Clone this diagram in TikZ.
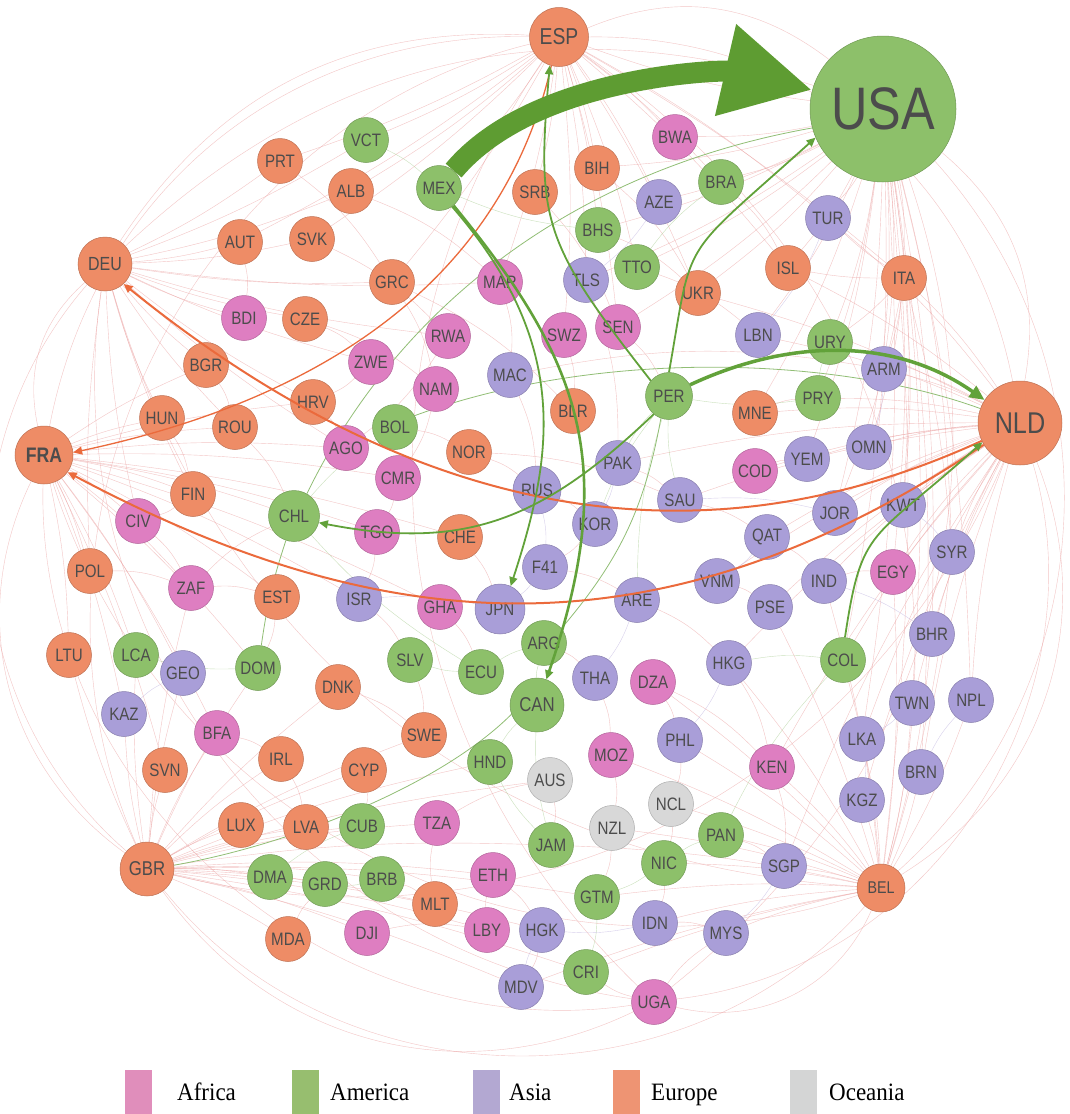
\documentclass[tikz,border=0pt]{standalone}
\usepackage{fontspec}
\newfontfamily\lblfont[FakeStretch=0.84]{Liberation Sans}
\newfontfamily\keyfont[FakeStretch=0.92]{Liberation Serif}
\usepackage{xcolor}
\usepackage{tikz}
\usetikzlibrary{positioning}
\usetikzlibrary{arrows.meta, backgrounds}
\definecolor{afr}{HTML}{DE7EC1}
\definecolor{ame}{HTML}{8DC06A}
\definecolor{asi}{HTML}{A99ED8}
\definecolor{eur}{HTML}{EE8C66}
\definecolor{oce}{HTML}{D8D8D8}
\definecolor{afrkey}{HTML}{E08EBB}
\definecolor{amekey}{HTML}{97BE6F}
\definecolor{asikey}{HTML}{B3A8D2}
\definecolor{eurkey}{HTML}{EE9473}
\definecolor{ocekey}{HTML}{D4D5D5}
\definecolor{webred}{HTML}{EBA0A0}
\definecolor{webgreen}{HTML}{A8CC90}
\definecolor{webpurple}{HTML}{BDB2E0}
\definecolor{flowgreen}{HTML}{62A23A}
\definecolor{bigflow}{HTML}{5E9C32}
\definecolor{floworange}{HTML}{EB6A3C}
\tikzset{
    country/.style={circle, draw=#1!80!black, fill=#1, line width=0.5pt, minimum size=45pt, inner sep=0pt, text=black!70, font=\lblfont\fontsize{18}{18}\selectfont},
    africa/.style={country=afr},
    america/.style={country=ame},
    asia/.style={country=asi},
    europe/.style={country=eur},
    oceania/.style={country=oce},
    hub/.style 2 args={minimum size=#1, font=\lblfont\fontsize{#2}{#2}\selectfont},
    web/.style={line width=0.4pt, draw=webred, opacity=0.6},
    webg/.style={web, draw=webgreen},
    webp/.style={web, draw=webpurple},
    flow/.style={line width=1.8pt, draw=flowgreen, -{Triangle[length=9pt, width=8pt]}},
    thinflow/.style={line width=0.8pt, draw=flowgreen!70!white},
    orflow/.style={line width=2pt, draw=floworange, -{Triangle[length=9pt, width=8pt]}},
    key/.style={rectangle, minimum width=27pt, minimum height=44pt, inner sep=0pt},
    keytext/.style={anchor=base west, inner sep=0pt, font=\keyfont\fontsize{25}{25}\selectfont}
}

\begin{document}
\begin{tikzpicture}[x=1pt, y=-1pt]

\useasboundingbox (0,0) rectangle (1069,1114);

% hubs
\node [america, hub={146pt}{60}]        (USA) at (883,109) {USA};
\node [europe, hub={59pt}{23}]          (ESP) at (559,37)  {ESP};
\node [europe, hub={84pt}{30}]          (NLD) at (1020,423) {NLD};
\node [europe, hub={54pt}{19}]          (DEU) at (105,264) {DEU};
\node [europe, minimum size=58pt, font=\lblfont\bfseries\fontsize{21}{21}\selectfont] (FRA) at (44,455) {FRA};
\node [europe, hub={54pt}{20}]          (GBR) at (147,869) {GBR};
\node [europe, hub={48pt}{17}]          (BEL) at (881,888) {BEL};
\node [america, hub={54pt}{20}]         (CAN) at (537,705) {CAN};

% Europe
\node [europe] (PRT) at (280,161) {PRT};
\node [europe] (ALB) at (351,191) {ALB};
\node [europe] (SRB) at (535,192) {SRB};
\node [europe] (BIH) at (597,168) {BIH};
\node [europe] (AUT) at (240,242) {AUT};
\node [europe] (SVK) at (312,239) {SVK};
\node [europe] (GRC) at (392,282) {GRC};
\node [europe] (CZE) at (305,319) {CZE};
\node [europe] (UKR) at (698,293) {UKR};
\node [europe] (ISL) at (788,268) {ISL};
\node [europe] (ITA) at (904,278) {ITA};
\node [europe] (BGR) at (206,365) {BGR};
\node [europe] (HUN) at (162,418) {HUN};
\node [europe] (ROU) at (235,427) {ROU};
\node [europe] (HRV) at (313,402) {HRV};
\node [europe] (BLR) at (573,411) {BLR};
\node [europe] (NOR) at (469,452) {NOR};
\node [europe] (MNE) at (755,413) {MNE};
\node [europe] (FIN) at (193,494) {FIN};
\node [europe] (CHE) at (460,537) {CHE};
\node [europe] (POL) at (90,571)  {POL};
\node [europe] (EST) at (277,597) {EST};
\node [europe] (LTU) at (69,655)  {LTU};
\node [europe] (DNK) at (338,687) {DNK};
\node [europe] (SWE) at (424,735) {SWE};
\node [europe] (SVN) at (165,770) {SVN};
\node [europe] (IRL) at (281,759) {IRL};
\node [europe] (CYP) at (364,770) {CYP};
\node [europe] (LUX) at (241,825) {LUX};
\node [europe] (LVA) at (306,827) {LVA};
\node [europe] (MLT) at (435,904) {MLT};
\node [europe] (MDA) at (288,939) {MDA};

% Africa
\node [africa] (BWA) at (675,137) {BWA};
\node [africa] (MAR) at (500,282) {MAR};
\node [africa] (BDI) at (244,318) {BDI};
\node [africa] (RWA) at (448,336) {RWA};
\node [africa] (SWZ) at (564,335) {SWZ};
\node [africa] (SEN) at (618,327) {SEN};
\node [africa] (ZWE) at (371,362) {ZWE};
\node [africa] (NAM) at (436,389) {NAM};
\node [africa] (AGO) at (346,448) {AGO};
\node [africa] (CMR) at (398,478) {CMR};
\node [africa] (COD) at (755,471) {COD};
\node [africa] (CIV) at (138,521) {CIV};
\node [africa] (TGO) at (377,532) {TGO};
\node [africa] (ZAF) at (191,588) {ZAF};
\node [africa] (GHA) at (440,607) {GHA};
\node [africa] (EGY) at (893,572) {EGY};
\node [africa] (DZA) at (653,682) {DZA};
\node [africa] (BFA) at (217,733) {BFA};
\node [africa] (MOZ) at (611,755) {MOZ};
\node [africa] (KEN) at (772,767) {KEN};
\node [africa] (TZA) at (437,823) {TZA};
\node [africa] (ETH) at (493,875) {ETH};
\node [africa] (DJI) at (367,933) {DJI};
\node [africa] (LBY) at (487,930) {LBY};
\node [africa] (UGA) at (654,1002) {UGA};

% America
\node [america] (VCT) at (366,140) {VCT};
\node [america] (MEX) at (439,188) {MEX};
\node [america] (BRA) at (721,182) {BRA};
\node [america] (BHS) at (598,230) {BHS};
\node [america] (TTO) at (637,267) {TTO};
\node [america] (URY) at (830,342) {URY};
\node [america, minimum size=47pt] (PER) at (669,396) {PER};
\node [america] (PRY) at (818,398) {PRY};
\node [america] (BOL) at (395,427) {BOL};
\node [america, minimum size=51pt] (CHL) at (294,516) {CHL};
\node [america] (SLV) at (410,660) {SLV};
\node [america] (ECU) at (481,672) {ECU};
\node [america] (ARG) at (544,643) {ARG};
\node [america] (COL) at (843,660) {COL};
\node [america] (LCA) at (136,655) {LCA};
\node [america] (DOM) at (258,668) {DOM};
\node [america] (HND) at (490,762) {HND};
\node [america] (CUB) at (362,826) {CUB};
\node [america] (JAM) at (551,845) {JAM};
\node [america] (PAN) at (721,835) {PAN};
\node [america] (NIC) at (664,863) {NIC};
\node [america] (DMA) at (270,877) {DMA};
\node [america] (GRD) at (325,884) {GRD};
\node [america] (BRB) at (382,879) {BRB};
\node [america] (GTM) at (597,897) {GTM};
\node [america] (CRI) at (586,972) {CRI};

% Asia
\node [asia] (AZE) at (659,202) {AZE};
\node [asia] (TUR) at (828,218) {TUR};
\node [asia] (TLS) at (586,280) {TLS};
\node [asia] (LBN) at (758,335) {LBN};
\node [asia] (ARM) at (884,369) {ARM};
\node [asia] (MAC) at (510,375) {MAC};
\node [asia] (PAK) at (618,463) {PAK};
\node [asia, minimum size=48pt] (RUS) at (537,490) {RUS};
\node [asia] (YEM) at (807,459) {YEM};
\node [asia] (OMN) at (869,447) {OMN};
\node [asia] (SAU) at (680,500) {SAU};
\node [asia] (KOR) at (595,524) {KOR};
\node [asia] (JOR) at (835,513) {JOR};
\node [asia] (KWT) at (903,505) {KWT};
\node [asia] (QAT) at (767,537) {QAT};
\node [asia] (F41) at (545,567) {F41};
\node [asia] (SYR) at (952,552) {SYR};
\node [asia] (ISR) at (359,599) {ISR};
\node [asia, minimum size=50pt] (JPN) at (500,609) {JPN};
\node [asia] (ARE) at (637,600) {ARE};
\node [asia] (VNM) at (717,581) {VNM};
\node [asia] (IND) at (824,581) {IND};
\node [asia] (PSE) at (770,607) {PSE};
\node [asia] (BHR) at (932,634) {BHR};
\node [asia] (GEO) at (183,673) {GEO};
\node [asia] (HKG) at (729,663) {HKG};
\node [asia] (THA) at (595,678) {THA};
\node [asia] (TWN) at (912,703) {TWN};
\node [asia] (NPL) at (971,700) {NPL};
\node [asia] (KAZ) at (124,714) {KAZ};
\node [asia] (PHL) at (680,740) {PHL};
\node [asia] (LKA) at (862,739) {LKA};
\node [asia] (BRN) at (921,772) {BRN};
\node [asia] (KGZ) at (862,800) {KGZ};
\node [asia] (SGP) at (784,866) {SGP};
\node [asia] (HGK) at (542,930) {HGK};
\node [asia] (IDN) at (655,923) {IDN};
\node [asia] (MYS) at (726,933) {MYS};
\node [asia] (MDV) at (521,987) {MDV};

% Oceania
\node [oceania] (AUS) at (550,780) {AUS};
\node [oceania] (NCL) at (671,804) {NCL};
\node [oceania] (NZL) at (612,828) {NZL};

% faint web of trade links
\begin{pgfonlayer}{background}
\fill [white] (0,0) rectangle (1069,1114);
\foreach \a/\b/\k in {ESP/DEU/30, DEU/FRA/30, FRA/GBR/40, GBR/UGA/40, UGA/BEL/40, BEL/NLD/40, NLD/USA/30, USA/ESP/30,
                      ESP/FRA/40, ESP/GBR/50, DEU/GBR/45, DEU/UGA/45, FRA/UGA/50, FRA/BEL/45, GBR/BEL/50, GBR/NLD/40,
                      UGA/NLD/50, UGA/USA/35, BEL/USA/45, BEL/ESP/35, NLD/ESP/40, USA/DEU/30, ESP/UGA/40, DEU/BEL/35}
    \draw [web] (\a) to [bend right=\k] (\b);
\foreach \t in {ESP, BWA, BIH, BRA, AZE, BHS, TTO, TLS, SEN, TUR, ISL, ITA, UKR, LBN, URY, ARM, PRY, OMN,
                KWT, SYR, BHR, EGY, COL, TWN, NPL, BRN, LKA, BEL, MNE, JOR, YEM}
    \draw [web] (USA) to [bend left=6] (\t);
\foreach \t in {ITA, TUR, ISL, URY, ARM, LBN, PRY, MNE, YEM, OMN, COD, JOR, KWT, QAT, SYR, EGY, IND, PSE,
                BHR, VNM, HKG, COL, TWN, NPL, LKA, KGZ, BRN, KEN, SGP, SAU, UKR, PAK}
    \draw [web] (NLD) to [bend right=6] (\t);
\foreach \t in {KAZ, SVN, BFA, IRL, LUX, LVA, CUB, CYP, SWE, TZA, DMA, GRD, BRB, MLT, ETH, MDA, DJI, LBY,
                HGK, MDV, CRI, GTM, JAM, HND, LCA, LTU, GEO, DNK, AUS, DOM, ZAF}
    \draw [web] (GBR) to [bend left=5] (\t);
\foreach \t in {SGP, MYS, IDN, NIC, PAN, NCL, KEN, KGZ, LKA, BRN, TWN, NPL, COL, HKG, PHL, BHR, IND, EGY,
                GTM, CRI, MDV, NZL, MOZ, SYR, DZA, PSE, JAM}
    \draw [web] (BEL) to [bend right=5] (\t);
\foreach \t in {HUN, ROU, FIN, CIV, POL, ZAF, LTU, LCA, GEO, KAZ, BGR, EST, ISR, CHL, AGO, HRV, SVN, BFA,
                DOM, TGO, CMR, GHA, CHE}
    \draw [web] (FRA) to [bend left=5] (\t);
\foreach \t in {PRT, AUT, SVK, ALB, VCT, BDI, CZE, BGR, HUN, GRC, ROU, HRV, ZWE, FIN, CIV, AGO, POL, MAR, RWA}
    \draw [web] (DEU) to [bend right=5] (\t);
\foreach \t in {PRT, VCT, ALB, MEX, SRB, BIH, BWA, AZE, BRA, BHS, TLS, TTO, GRC, MAR, SWZ, SEN, UKR, ISL,
                TUR, ITA, AUT, SVK}
    \draw [web] (ESP) to [bend left=5] (\t);
\foreach \t in {ISL, TUR, URY, ARM, OMN, KWT, SYR, JOR}
    \draw [web] (ITA) to [bend left=5] (\t);
\foreach \a/\b in {PRT/GRC, ALB/MAR, AUT/BDI, SVK/RWA, CZE/ZWE, GRC/NAM, MAR/MAC, RWA/AGO, TLS/PAK, TTO/LBN,
                   BHS/UKR, BRA/ISL, SRB/SEN, BIH/UKR, SWZ/BLR, SEN/PER, MAC/RUS, NAM/CMR, ZWE/HRV, BGR/ROU,
                   HRV/AGO, BOL/NOR, NOR/RUS, CMR/TGO, TGO/ISR, CHE/JPN, RUS/KOR, PAK/SAU, SAU/QAT, KOR/F41,
                   F41/ARE, ARE/HKG, VNM/PSE, QAT/IND, IND/EGY, COD/YEM, MNE/PRY, ZAF/EST, EST/DOM, ISR/SLV,
                   GHA/ECU, SLV/SWE, ARG/THA, THA/MOZ, DZA/PHL, HKG/KEN, KEN/SGP, PHL/NCL, MOZ/NZL, AUS/JAM,
                   NZL/GTM, NCL/NIC, PAN/SGP, NIC/IDN, IDN/MYS, HGK/MDV, LBY/ETH, MLT/TZA, CYP/CUB, IRL/LVA,
                   DNK/SWE, BFA/IRL, CIV/ZAF, FIN/CIV, HUN/FIN, ROU/CHL, POL/ZAF, TZA/AUS, DJI/LBY, MDA/GRD,
                   BRB/MLT, ETH/HGK, UGA/CRI, UGA/MYS, DZA/KEN, MAC/ARM, ZAF/CHL, NOR/SAU, GRC/BLR, CZE/NAM}
    \draw [web] (\a) to [bend left=10] (\b);
\foreach \a/\b in {MEX/VCT, MEX/BHS, BRA/TTO, URY/PRY, PER/PRY, PER/PAK, PER/SAU, PER/KOR, BOL/CHL, CHL/ECU,
                   SLV/ECU, ARG/ECU, COL/PAN, CAN/JAM, HND/JAM, GTM/NIC, PAN/NIC, CUB/DMA, GRD/BRB, LCA/DOM,
                   CRI/GTM, ARG/CAN, COL/HKG, CAN/HND, PER/ARE}
    \draw [webg] (\a) to [bend right=8] (\b);
\foreach \a/\b in {AZE/TLS, TUR/LBN, ARM/OMN, PAK/KOR, SAU/JOR, KWT/SYR, QAT/VNM, IND/BHR, ARE/THA, HKG/PHL,
                   TWN/LKA, LKA/KGZ, BRN/NPL, SGP/MYS, IDN/HGK, MDV/HGK, KAZ/GEO, ISR/JPN, RUS/F41, F41/JPN}
    \draw [webp] (\a) to [bend left=8] (\b);
% thin highlighted links
\draw [thinflow] (CHL.60) .. controls +(64:214pt) and +(190:236pt) .. (USA.195);
\draw [thinflow] (DOM) to [bend left=5] (CHL);
\draw [thinflow] (GBR.8) .. controls +(10:120pt) and +(225:100pt) .. (CAN.200);
\draw [thinflow] (BOL.30) .. controls +(20:200pt) and +(160:150pt) .. (NLD.160);
\draw [thinflow] (PER.250) to [bend left=15] (ARG.40);
\end{pgfonlayer}

% main flows
\draw [orflow, line width=1.3pt] (ESP.-105) .. controls +(257:231pt) and +(12:240pt) .. (FRA.5);
\draw [orflow] (NLD.205) .. controls +(204.6:310pt) and +(-39:376pt) .. (DEU.-47);
\draw [orflow] (NLD.211) .. controls +(213.8:387pt) and +(-28:362pt) .. (FRA.-36);
\draw [flow, line width=2.6pt] (MEX.-50) .. controls +(-50.7:200pt) and +(71:228pt) .. (CAN.70);
\draw [flow] (MEX.-55) .. controls +(-49:184pt) and +(72:135pt) .. (JPN.65);
\draw [flow] (PER.140) .. controls +(128:175pt) and +(-95:157pt) .. (ESP.-108);
\draw [flow] (PER.230) .. controls +(223.6:152pt) and +(-11:150pt) .. (CHL.-15);
\draw [flow] (PER.90) .. controls +(80:141pt) and +(222:186pt) .. (USA.203);
\draw [flow] (COL.85) .. controls +(81.5:114pt) and +(222:150pt) .. (NLD.207);
\draw [flow, line width=3.5pt, -{Triangle[length=15pt, width=13pt]}] (PER.28) .. controls +(25:110pt) and +(145:110pt) .. (NLD.147);
\draw [line width=21pt, draw=bigflow, -{Triangle[length=89pt, width=88pt]}] (MEX.50) .. controls +(50:125pt) and +(167:90pt) .. (USA.165);

% legend
\node [key, fill=afrkey] (kAfr) at (138.5,1092) {};
\node [key, fill=amekey] (kAme) at (305,1092)   {};
\node [key, fill=asikey] (kAsi) at (486,1092)   {};
\node [key, fill=eurkey] (kEur) at (626,1092)   {};
\node [key, fill=ocekey] (kOce) at (803.5,1092) {};
\node [keytext] (tAfr) at (177,1100) {Africa};
\node [keytext] (tAme) at (330,1100) {America};
\node [keytext] (tAsi) at (509,1100) {Asia};
\node [keytext] (tEur) at (651,1100) {Europe};
\node [keytext] (tOce) at (829,1100) {Oceania};

\end{tikzpicture}
\end{document}
